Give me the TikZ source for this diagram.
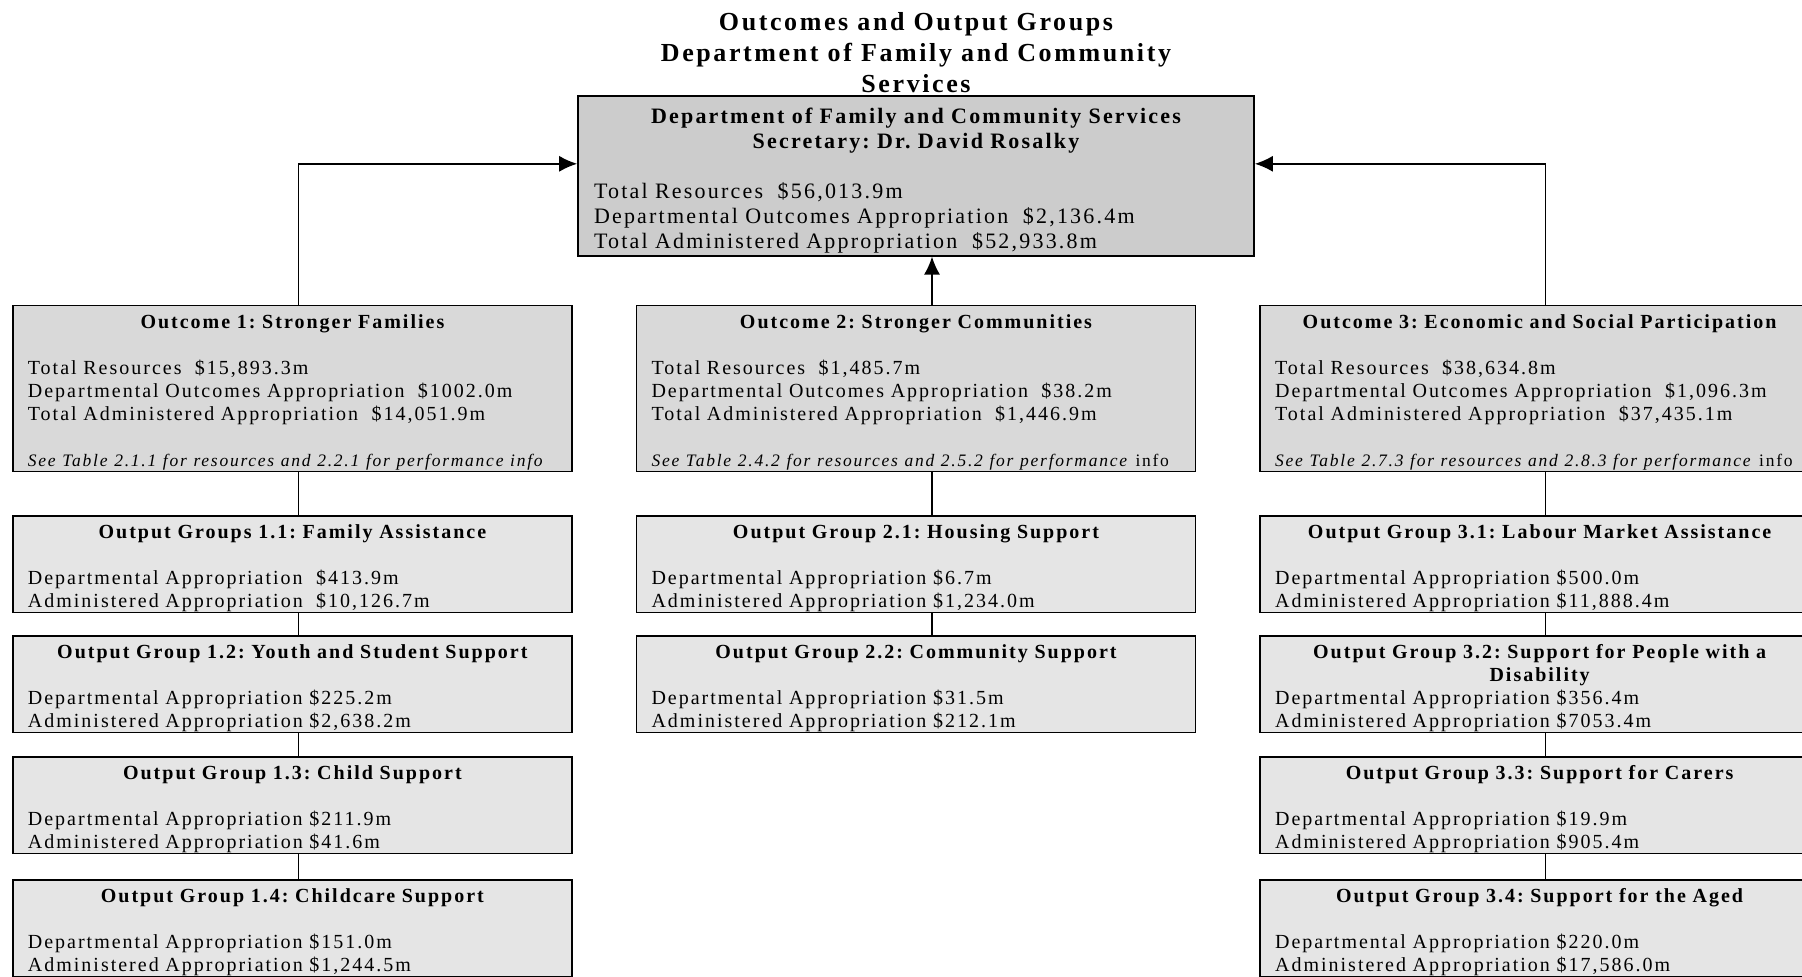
\documentclass[tikz,border=0pt]{standalone}
\usepackage{fontspec}
\setmainfont{Liberation Serif}[LetterSpace=10]
\usetikzlibrary{positioning,arrows.meta}
\definecolor{deptgray}{gray}{0.80}
\definecolor{outcomegray}{gray}{0.85}
\definecolor{groupgray}{gray}{0.90}
\frenchspacing
\newcommand{\boxhead}[1]{\makebox[\linewidth]{\rule{0pt}{1.1em}\bfseries #1}}
\newcommand{\boxsub}[1]{\makebox[\linewidth]{\bfseries #1}}
\newcommand{\seenote}[1]{{\fontsize{8.75}{11.5}\selectfont #1}}
\tikzset{
  dept/.style={
    draw,
    rectangle,
    fill=deptgray,
    line width=0.8pt,
    text width=322pt,
    minimum height=80pt,
    inner xsep=8pt,
    inner ysep=0pt,
    align=left,
    font=\fontsize{11}{12.5}\selectfont
  },
  outcome/.style={
    draw,
    rectangle,
    fill=outcomegray,
    line width=0.8pt,
    text width=264.5pt,
    minimum height=83pt,
    inner xsep=7.5pt,
    inner ysep=0pt,
    align=left,
    font=\fontsize{10}{11.5}\selectfont
  },
  group/.style={
    outcome,
    fill=groupgray,
    minimum height=48.2pt
  },
  title/.style={align=center,inner sep=0pt,font=\fontsize{13}{15.5}\selectfont\bfseries},
  line/.style={-{Latex[length=9pt,width=8pt]},line width=0.8pt},
  link/.style={line width=0.8pt}
}

\begin{document}
\begin{tikzpicture}
	\useasboundingbox (0,0) rectangle (901pt,-488pt);

	% department
	\node[dept, anchor=north] (dept) at (458pt,-47.5pt) {\boxhead{Department of Family and Community Services}\\
		\boxsub{Secretary: Dr. David Rosalky}\\[12.5pt]
		Total Resources~~\$56,013.9m\\
		Departmental Outcomes Appropriation~~\$2,136.4m\\
		Total Administered Appropriation~~\$52,933.8m};
	\node[title, above = 1pt of dept] (heading) {Outcomes and Output Groups\\Department of Family and Community\\Services};

	% outcomes
	\node[outcome, below = 24pt of dept] (outcome2) {\boxhead{Outcome 2: Stronger Communities}\\[11.5pt]
		Total Resources~~\$1,485.7m\\
		Departmental Outcomes Appropriation~~\$38.2m\\
		Total Administered Appropriation~~\$1,446.9m\\[11.5pt]
		\seenote{\textit{See Table 2.4.2 for resources and 2.5.2 for performance} info}};
	\node[outcome, left = 31.5pt of outcome2] (outcome1) {\boxhead{Outcome 1: Stronger Families}\\[11.5pt]
		Total Resources~~\$15,893.3m\\
		Departmental Outcomes Appropriation~~\$1002.0m\\
		Total Administered Appropriation~~\$14,051.9m\\[11.5pt]
		\seenote{\textit{See Table 2.1.1 for resources and 2.2.1 for performance info}}};
	\node[outcome, right = 31.5pt of outcome2] (outcome3) {\boxhead{Outcome 3: Economic and Social Participation}\\[11.5pt]
		Total Resources~~\$38,634.8m\\
		Departmental Outcomes Appropriation~~\$1,096.3m\\
		Total Administered Appropriation~~\$37,435.1m\\[11.5pt]
		\seenote{\textit{See Table 2.7.3 for resources and 2.8.3 for performance} info}};

	% first outcome groups
	\node[group, below = 21.5pt of outcome1] (group11) {\boxhead{Output Groups 1.1: Family Assistance}\\[11.5pt]
		Departmental Appropriation~~\$413.9m\\
		Administered Appropriation~~\$10,126.7m};
	\node[group, below = 11pt of group11] (group12) {\boxhead{Output Group 1.2: Youth and Student Support}\\[11.5pt]
		Departmental Appropriation \$225.2m\\
		Administered Appropriation \$2,638.2m};
	\node[group, below = 11.5pt of group12] (group13) {\boxhead{Output Group 1.3: Child Support}\\[11.5pt]
		Departmental Appropriation \$211.9m\\
		Administered Appropriation \$41.6m};
	\node[group, below = 12.5pt of group13] (group14) {\boxhead{Output Group 1.4: Childcare Support}\\[11.5pt]
		Departmental Appropriation \$151.0m\\
		Administered Appropriation \$1,244.5m};

	% second outcome groups
	\node[group, below = 21.5pt of outcome2] (group21) {\boxhead{Output Group 2.1: Housing Support}\\[11.5pt]
		Departmental Appropriation \$6.7m\\
		Administered Appropriation \$1,234.0m};
	\node[group, below = 11pt of group21] (group22) {\boxhead{Output Group 2.2: Community Support}\\[11.5pt]
		Departmental Appropriation \$31.5m\\
		Administered Appropriation \$212.1m};

	% third outcome groups
	\node[group, below = 21.5pt of outcome3] (group31) {\boxhead{Output Group 3.1: Labour Market Assistance}\\[11.5pt]
		Departmental Appropriation \$500.0m\\
		Administered Appropriation \$11,888.4m};
	\node[group, below = 11pt of group31] (group32) {\boxhead{Output Group 3.2: Support for People with a}\\
		\boxsub{Disability}\\
		Departmental Appropriation \$356.4m\\
		Administered Appropriation \$7053.4m};
	\node[group, below = 11.5pt of group32] (group33) {\boxhead{Output Group 3.3: Support for Carers}\\[11.5pt]
		Departmental Appropriation \$19.9m\\
		Administered Appropriation \$905.4m};
	\node[group, below = 12.5pt of group33] (group34) {\boxhead{Output Group 3.4: Support for the Aged}\\[11.5pt]
		Departmental Appropriation \$220.0m\\
		Administered Appropriation \$17,586.0m};

	\draw[line] ([xshift=3pt]outcome1.north) |- ([yshift=6pt]dept.west);
	\draw[line] ([xshift=8pt]outcome2.north) -- ([xshift=8pt]dept.south);
	\draw[line] ([xshift=3pt]outcome3.north) |- ([yshift=6pt]dept.east);

	\draw[link] ([xshift=3pt]outcome1.south) -- ([xshift=3pt]group11.north);
	\draw[link] ([xshift=3pt]group11.south) -- ([xshift=3pt]group12.north);
	\draw[link] ([xshift=3pt]group12.south) -- ([xshift=3pt]group13.north);
	\draw[link] ([xshift=3pt]group13.south) -- ([xshift=3pt]group14.north);

	\draw[link] ([xshift=8pt]outcome2.south) -- ([xshift=8pt]group21.north);
	\draw[link] ([xshift=8pt]group21.south) -- ([xshift=8pt]group22.north);

	\draw[link] ([xshift=3pt]outcome3.south) -- ([xshift=3pt]group31.north);
	\draw[link] ([xshift=3pt]group31.south) -- ([xshift=3pt]group32.north);
	\draw[link] ([xshift=3pt]group32.south) -- ([xshift=3pt]group33.north);
	\draw[link] ([xshift=3pt]group33.south) -- ([xshift=3pt]group34.north);

\end{tikzpicture}
\end{document}
